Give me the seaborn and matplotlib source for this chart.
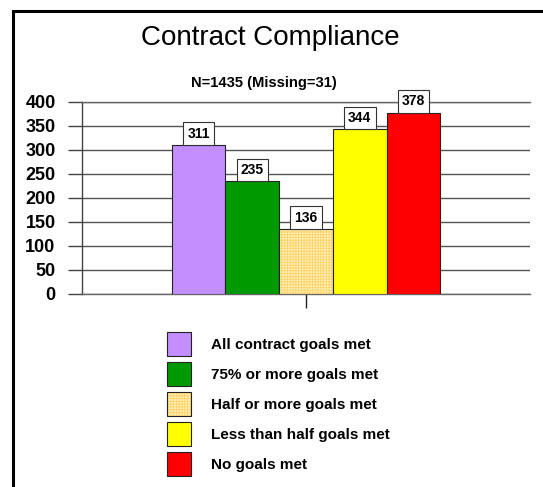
import matplotlib
matplotlib.use("Agg")
import matplotlib.pyplot as plt
import seaborn as sns
import pandas as pd
from matplotlib.patches import Patch, Rectangle
from matplotlib.colors import to_rgba

categories = ["All contract goals met", "75% or more goals met",
              "Half or more goals met", "Less than half goals met", "No goals met"]
values = [311, 235, 136, 344, 378]
colors = ["#C38EFF", "#009900", "#FFF0B8", "#FFFF00", "#FF0000"]
hatch_color = "#FFD36A"
yticks = [0, 50, 100, 150, 200, 250, 300, 350, 400]
title = "Contract Compliance"
subtitle = "N=1435 (Missing=31)"

sns.set_style("white")
plt.rcParams['font.family'] = ['Liberation Sans', 'DejaVu Sans']
plt.rcParams['hatch.linewidth'] = 0.6
for k in ['text.color', 'axes.labelcolor', 'xtick.labelcolor', 'ytick.labelcolor']:
    plt.rcParams[k] = 'black'

df = pd.DataFrame({"group": [""] * len(categories), "category": categories, "value": values})

W, H = 543, 487
fig = plt.figure(figsize=(W / 100, H / 100), dpi=100)
ax = fig.add_axes([82 / W, (H - 294) / H, 448 / W, 192 / H])

sns.barplot(data=df, x="group", y="value", hue="category", hue_order=categories,
            palette=colors, saturation=1, width=0.6, gap=0, legend=False,
            edgecolor="#222222", linewidth=0.8, ax=ax, zorder=3)

# hatched third bar
hp = ax.patches[2]
hp.set_hatch("++++++")
hp._hatch_color = to_rgba(hatch_color)

ax.set_xlim(-0.5, 0.5)
ax.set_ylim(0, 400)
ax.set_yticks(yticks)
ax.set_yticklabels([str(t) for t in yticks], fontsize=13, fontweight="bold", color="black")
ax.set_xticks([0])
ax.set_xticklabels([""])
ax.set_xlabel("")
ax.set_ylabel("")
ax.tick_params(axis="y", direction="out", length=10, width=1, color="#444444", pad=9, left=True)
ax.tick_params(axis="x", direction="out", length=10, width=1, color="#222222", bottom=True)
ax.yaxis.grid(True, color="#555555", linewidth=1)
ax.xaxis.grid(False)
ax.set_axisbelow(True)
for side in ["top", "bottom"]:
    ax.spines[side].set_visible(True)
    ax.spines[side].set_color("#666666")
    ax.spines[side].set_linewidth(1)
ax.spines["right"].set_visible(False)
ax.spines["left"].set_color("#444444")
ax.spines["left"].set_linewidth(1)

for cont in ax.containers:
    ax.bar_label(cont, fmt="%d", padding=3, fontsize=10, fontweight="bold", color="black",
                 bbox=dict(boxstyle="square,pad=0.3", facecolor="white",
                           edgecolor="#333333", linewidth=0.8), zorder=5)

fig.text(270 / W, 1 - 45 / H, title, fontsize=20, ha="center", va="baseline", color="black")
fig.text(264 / W, 1 - 87 / H, subtitle, fontsize=10.6, fontweight="bold", ha="center",
         va="baseline", color="black")

handles = []
for i, c in enumerate(colors):
    p = Patch(facecolor=c, edgecolor="#222222", linewidth=0.8,
              hatch="++++++" if i == 2 else None)
    handles.append(p)
leg = fig.legend(handles, categories, loc="upper left",
                 bbox_to_anchor=(167 / W, 1 - 332 / H), frameon=False,
                 prop={"size": 11, "weight": "bold"}, handlelength=1.57, handleheight=2.04,
                 labelspacing=0.39, handletextpad=1.31, borderpad=0, borderaxespad=0,
                 labelcolor="black")
lh = leg.legend_handles[2]
lh._hatch_color = to_rgba(hatch_color)

fig.add_artist(Rectangle((12.5 / W, -0.1), 1.2, 1.1 - 11.3 / H, transform=fig.transFigure,
                         facecolor="none", edgecolor="black", linewidth=2.2))

fig.savefig("out.png", dpi=100)
